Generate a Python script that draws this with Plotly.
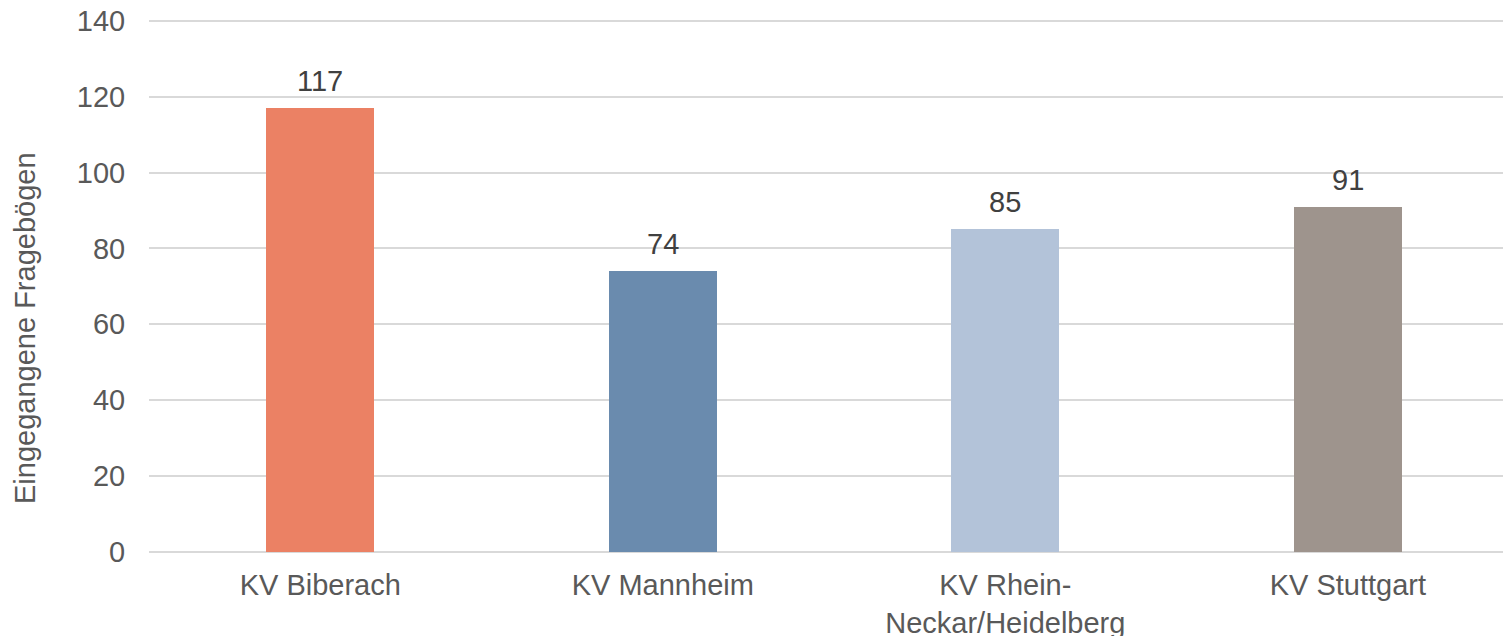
import plotly.graph_objects as go

categories = ["KV Biberach", "KV Mannheim", "KV Rhein-<br>Neckar/Heidelberg", "KV Stuttgart"]
values = [117, 74, 85, 91]
colors = ["#EB8164", "#6A8BAE", "#B3C3D9", "#9E948D"]
y_ticks = [0, 20, 40, 60, 80, 100, 120, 140]
y_title = "Eingegangene Fragebögen"

FONT = "Liberation Sans, Arial, sans-serif"

W, H = 1503, 636
ml, mr, mt, mb = 149, 0, 17, 84
plot_h = H - mt - mb
plot_w = W - ml - mr

fig = go.Figure()
fig.add_trace(go.Bar(
    x=list(range(len(categories))),
    y=values,
    marker=dict(color=colors, line=dict(width=0)),
    width=0.315,
    hoverinfo="skip",
))

for i, v in enumerate(values):
    fig.add_annotation(
        x=i, y=v, xref="x", yref="y", text=str(v), showarrow=False,
        yanchor="bottom", yshift=9,
        font=dict(family=FONT, size=29, color="#404040"),
    )

fig.add_annotation(
    x=(25 - ml) / plot_w, xref="paper", y=(H - 328 - mb) / plot_h, yref="paper",
    text=y_title, showarrow=False, textangle=-90, xanchor="center", yanchor="middle",
    font=dict(family=FONT, size=29, color="#595959"),
)

fig.update_layout(
    width=W, height=H,
    margin=dict(l=ml, r=mr, t=mt, b=mb, autoexpand=False),
    plot_bgcolor="white", paper_bgcolor="white",
    showlegend=False,
    bargap=0,
    xaxis=dict(
        tickmode="array", tickvals=list(range(len(categories))), ticktext=categories,
        range=[-0.5, 3.453], showgrid=False, zeroline=False, showline=False,
        ticks="outside", ticklen=7, tickcolor="rgba(0,0,0,0)",
        tickfont=dict(family=FONT, size=29, color="#595959"),
        automargin=False, fixedrange=True,
    ),
    yaxis=dict(
        range=[0, 141], tickmode="array", tickvals=y_ticks,
        showgrid=True, gridcolor="#D9D9D9", gridwidth=1.5,
        zeroline=True, zerolinecolor="#D9D9D9", zerolinewidth=1.5,
        showline=False,
        ticks="outside", ticklen=17, tickcolor="rgba(0,0,0,0)",
        tickfont=dict(family=FONT, size=29, color="#595959"),
        automargin=False, fixedrange=True,
    ),
)

fig.write_html(
    "out.html",
    config={"displayModeBar": False},
    post_script="document.body.style.margin='0';document.body.style.overflow='hidden';",
)
